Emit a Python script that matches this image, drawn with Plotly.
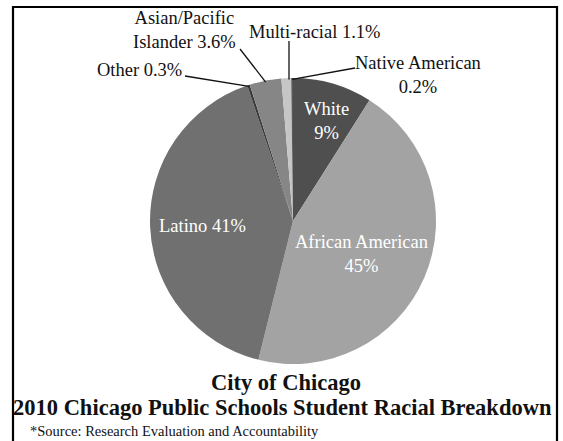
import math
import plotly.graph_objects as go

# ---- data ----
groups = ["White", "African American", "Latino", "Other",
          "Asian/Pacific Islander", "Multi-racial", "Native American"]
shares = [9, 45, 41, 0.3, 3.6, 1.1, 0.2]
colors = ["#4f4f4f", "#a3a3a3", "#707070", "#3a3a3a", "#868686", "#c6c6c6", "#5a5a5a"]

title_lines = ["City of Chicago", "2010 Chicago Public Schools Student Racial Breakdown"]
source_note = "*Source: Research Evaluation and Accountability"

W, H = 563, 441


def px(x):
    return x / W


def py(y):
    return 1 - y / H


# pie geometry (pixels)
cx, cy, r = 293, 221, 143

fig = go.Figure(go.Pie(
    labels=groups, values=shares, sort=False, direction="clockwise", rotation=0,
    marker=dict(colors=colors, line=dict(width=0)),
    textinfo="none", hoverinfo="label+percent", showlegend=False,
    domain=dict(x=[px(cx - r), px(cx + r)], y=[py(cy + r), py(cy - r)]),
))

total = sum(shares)
cum = 0
mids = {}
for g, v in zip(groups, shares):
    mids[g] = (cum + v / 2) / total
    cum += v


def edge(g, k=1.0):
    a = 2 * math.pi * mids[g]
    return cx + k * r * math.sin(a), cy - k * r * math.cos(a)


serif = "Liberation Serif, Times New Roman, serif"
ann = []
shapes = []


def label(x, y, text, size, color, xanchor="center"):
    ann.append(dict(x=px(x), y=py(y), xref="paper", yref="paper", showarrow=False,
                    xanchor=xanchor, yanchor="middle", text=text,
                    font=dict(family=serif, size=size, color=color)))


# inside labels
inside = {
    "White": ("White<br>{}%", 326, 121),
    "African American": ("African American<br>{}%", 361, 254),
    "Latino": ("Latino {}%", 202, 226),
}
for g, (fmt, x, y) in inside.items():
    v = shares[groups.index(g)]
    label(x, y, fmt.format(v if v % 1 else int(v)), 18.5, "white")

# outside labels
outside = {
    "Asian/Pacific Islander": ("Asian/Pacific<br>Islander {}%", 184, 30, [(240, 49)]),
    "Multi-racial": ("Multi-racial {}%", 315, 32, [(289, 41)]),
    "Native American": ("Native American<br>{}%", 418, 75, [(355, 68)]),
    "Other": ("Other {}%", 139, 70, [(185, 76)]),
}
for g, (fmt, x, y, pts) in outside.items():
    v = shares[groups.index(g)]
    label(x, y, fmt.format(v), 18.5, "#111111")
    ex, ey = edge(g, 0.99)
    if g == "Multi-racial":
        ex = pts[0][0]
    p = pts + [(ex, ey)]
    path = "M " + " L ".join(f"{px(a)},{py(b)}" for a, b in p)
    shapes.append(dict(type="path", xref="paper", yref="paper", path=path,
                       line=dict(color="#111111", width=1.3)))

# title and source
label(286, 382, "<b>" + title_lines[0] + "</b>", 22.5, "#111111")
label(283, 407, "<b>" + title_lines[1] + "</b>", 22.5, "#111111")
label(28, 431, source_note, 14.5, "#111111", xanchor="left")

# frame
shapes.append(dict(type="path", xref="paper", yref="paper",
                   path=f"M {px(13)},{py(445)} L {px(13)},{py(7)} L {px(557)},{py(7)} L {px(557)},{py(445)}",
                   line=dict(color="black", width=2.2)))

fig.update_layout(width=W, height=H, autosize=False,
                  margin=dict(l=0, r=0, t=0, b=0),
                  paper_bgcolor="white", plot_bgcolor="white",
                  annotations=ann, shapes=shapes)
fig.write_html("out.html", config=dict(displayModeBar=False),
               post_script="document.body.style.margin='0';document.body.style.overflow='hidden';")
